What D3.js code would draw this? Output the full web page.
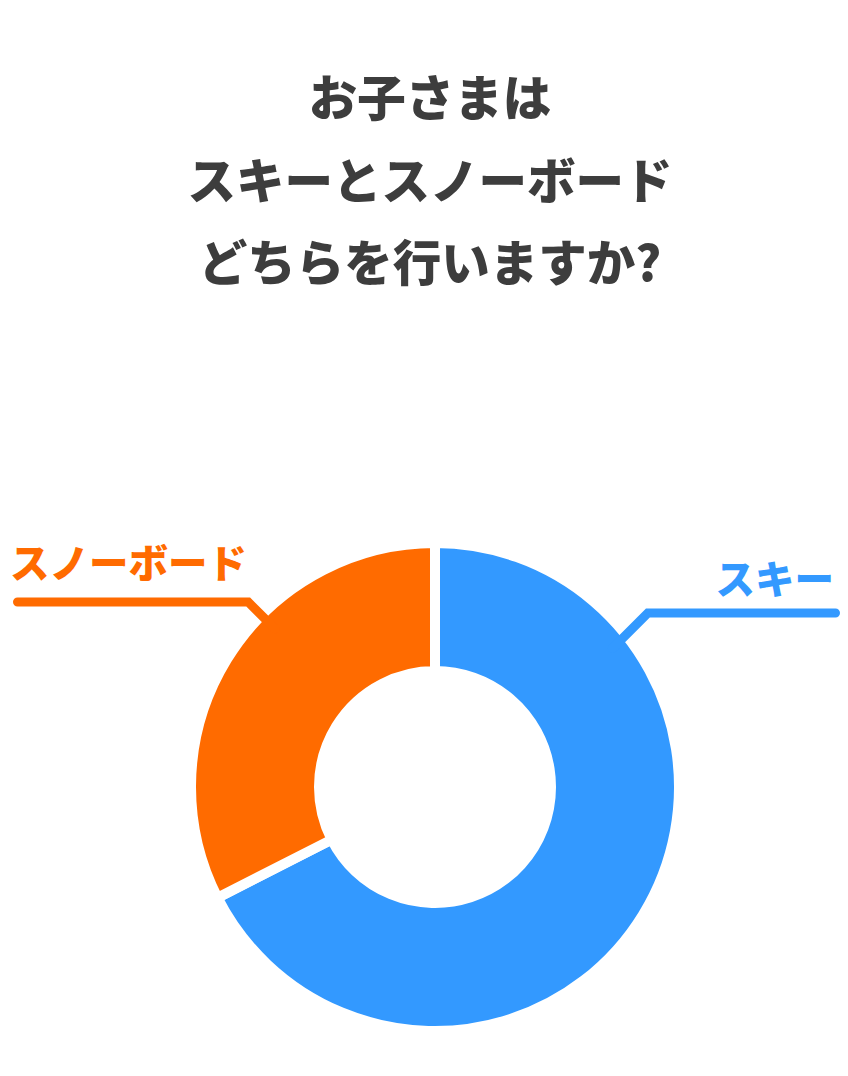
<!DOCTYPE html>
<html>
<head>
<meta charset="utf-8">
<script src="https://cdn.jsdelivr.net/npm/d3@7"></script>
<style>
  html, body { margin: 0; padding: 0; background: #fff; }
  svg { display: block; }
  text { font-family: "Noto Sans CJK JP", "Noto Sans", sans-serif; font-weight: 900; }
</style>
</head>
<body>
<svg id="chart" width="848" height="1076"></svg>
<script>
// ---- data ----
const titleLines = ["お子さまは", "スキーとスノーボード", "どちらを行いますか?"];
const categories = ["スキー", "スノーボード"];
const values = [67.5, 32.5];
const colors = ["#3399FF", "#FF6B00"];

// ---- layout ----
const W = 848, H = 1076;
const cx = 435, cy = 787;
const outerR = 244, innerR = 116;
const svg = d3.select("#chart");

// title
svg.append("g").selectAll("text")
  .data(titleLines)
  .join("text")
  .attr("x", 430)
  .attr("y", (d, i) => 116 + i * 82.5)
  .attr("text-anchor", "middle")
  .attr("font-size", 48.5)
  .attr("fill", "#3d3d3d")
  .text(d => d);

const data = categories.map((c, i) => ({ name: c, value: values[i], color: colors[i] }));

const pie = d3.pie().value(d => d.value).sort(null);
const arc = d3.arc().innerRadius(innerR).outerRadius(outerR);
const arcs = pie(data);

const g = svg.append("g").attr("transform", `translate(${cx},${cy})`);
g.selectAll("path")
  .data(arcs)
  .join("path")
  .attr("d", arc)
  .attr("fill", d => d.data.color)
  .attr("stroke", "#fff")
  .attr("stroke-width", 10)
  .attr("stroke-linejoin", "miter");

// leader lines & labels
const visR = outerR - 5;
const leaders = [
  { angle: 51.6, lineY: 613, side: 1, endX: 835.5, labelX: 834, labelY: 594 },
  { angle: -45.3, lineY: 602, side: -1, endX: 17.5, labelX: 10, labelY: 578 }
];

arcs.forEach((a, i) => {
  const L = leaders[i];
  const t = L.angle * Math.PI / 180;
  const ax = cx + visR * Math.sin(t), ay = cy - visR * Math.cos(t);
  const inset = 14;
  const ix = ax - L.side * inset / Math.SQRT2, iy = ay + inset / Math.SQRT2;
  const ex = ax + L.side * (ay - L.lineY), ey = L.lineY;
  svg.append("path")
    .attr("d", d3.line()([[ix, iy], [ex, ey], [L.endX, ey]]))
    .attr("fill", "none")
    .attr("stroke", a.data.color)
    .attr("stroke-width", 9)
    .attr("stroke-linecap", "round")
    .attr("stroke-linejoin", "miter");
  svg.append("text")
    .attr("x", L.labelX)
    .attr("y", L.labelY)
    .attr("text-anchor", L.side > 0 ? "end" : "start")
    .attr("font-size", 39.5)
    .attr("fill", a.data.color)
    .text(a.data.name);
});
</script>
</body>
</html>
